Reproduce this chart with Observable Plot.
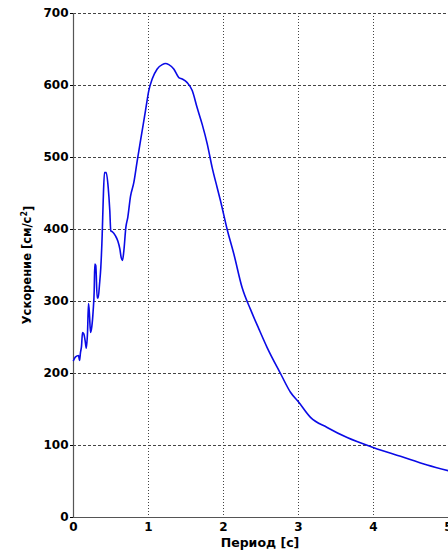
<!DOCTYPE html>
<html>
<head>
<meta charset="utf-8">
<script src="https://cdn.jsdelivr.net/npm/d3@7"></script>
<script src="https://cdn.jsdelivr.net/npm/@observablehq/plot@0.6"></script>
<style>
  html, body { margin: 0; padding: 0; background: #fff; }
  #chart svg { display: block; }
</style>
</head>
<body>
<div id="chart"></div>
<script>
const period = [0, 0.027, 0.067, 0.08, 0.093, 0.107, 0.12, 0.137, 0.156, 0.17, 0.187, 0.2, 0.213, 0.227, 0.244, 0.262, 0.276, 0.284, 0.297, 0.316, 0.329, 0.347, 0.364, 0.383, 0.396, 0.413, 0.436, 0.463, 0.484, 0.497, 0.516, 0.56, 0.591, 0.618, 0.636, 0.653, 0.671, 0.698, 0.724, 0.76, 0.804, 0.849, 0.893, 0.96, 1.004, 1.049, 1.116, 1.183, 1.227, 1.271, 1.337, 1.404, 1.449, 1.516, 1.583, 1.649, 1.716, 1.783, 1.849, 1.916, 1.96, 2.049, 2.138, 2.249, 2.36, 2.471, 2.582, 2.76, 2.893, 3.004, 3.16, 3.382, 3.649, 4.004, 4.36, 4.716, 5.0];
const accel = [218, 223, 225, 218, 229, 238, 257, 255, 245, 235, 257, 297, 282, 257, 265, 287, 315, 352, 350, 305, 305, 324, 347, 394, 440, 479, 479, 458, 426, 398, 397, 391, 384, 373, 361, 357, 370, 403, 417, 446, 465, 495, 523, 565, 593, 609, 623, 629, 630.6, 629, 623, 611, 609, 604, 593, 569, 546, 519, 486, 458, 440, 400, 366, 319, 289, 262, 236, 200, 174, 160, 139, 125, 111, 97, 85, 73, 65];
const xTicks = [0, 1, 2, 3, 4, 5];
const yTicks = [0, 100, 200, 300, 400, 500, 600, 700];
const xGrid = [1, 2, 3, 4];
const yGrid = [100, 200, 300, 400, 500, 600, 700];
const xLabel = "Период [с]";
const yLabelMain = "Ускорение [см/с";
const yLabelSup = "2";
const yLabelEnd = "]";

const data = period.map((p, i) => ({p, a: accel[i]}));
const font = "'DejaVu Sans', sans-serif";

const plot = Plot.plot({
  width: 448,
  height: 552,
  marginLeft: 73,
  marginRight: 0,
  marginTop: 13,
  marginBottom: 35,
  style: {fontFamily: font, fontSize: "12px", fontWeight: "bold", color: "#000", background: "#fff", overflow: "visible"},
  x: {domain: [0, 5]},
  y: {domain: [0, 700]},
  marks: [
    Plot.ruleY(yGrid, {stroke: "#444", strokeWidth: 1, strokeDasharray: "3,2"}),
    Plot.ruleX(xGrid, {stroke: "#444", strokeWidth: 1, strokeDasharray: "1,2"}),
    Plot.ruleX([0], {stroke: "#555", strokeWidth: 1.2}),
    Plot.ruleY([0], {stroke: "#555", strokeWidth: 1.2}),
    Plot.axisX({ticks: xTicks, tickSize: 0, tickPadding: 5, label: null, tickFormat: d => String(d)}),
    Plot.axisY({ticks: yTicks, tickSize: 3, tickPadding: 2, label: null, tickFormat: d => String(d)}),
    Plot.line(data, {x: "p", y: "a", stroke: "#0a0ae6", strokeWidth: 1.6, curve: "monotone-x"})
  ]
});
document.getElementById("chart").appendChild(plot);

const svg = d3.select(plot);
svg.append("text")
  .attr("x", 260)
  .attr("y", 547)
  .attr("text-anchor", "middle")
  .style("font-family", font)
  .style("font-size", "12.5px")
  .style("font-weight", "bold")
  .attr("fill", "#000")
  .text(xLabel);

const yl = svg.append("text")
  .attr("transform", "translate(31,265) rotate(-90)")
  .attr("text-anchor", "middle")
  .style("font-family", font)
  .style("font-size", "11.5px")
  .style("font-weight", "bold")
  .attr("fill", "#000");
yl.append("tspan").text(yLabelMain);
yl.append("tspan").attr("dy", "-0.45em").style("font-size", "8px").text(yLabelSup);
yl.append("tspan").attr("dy", "0.45em").text(yLabelEnd);
</script>
</body>
</html>
